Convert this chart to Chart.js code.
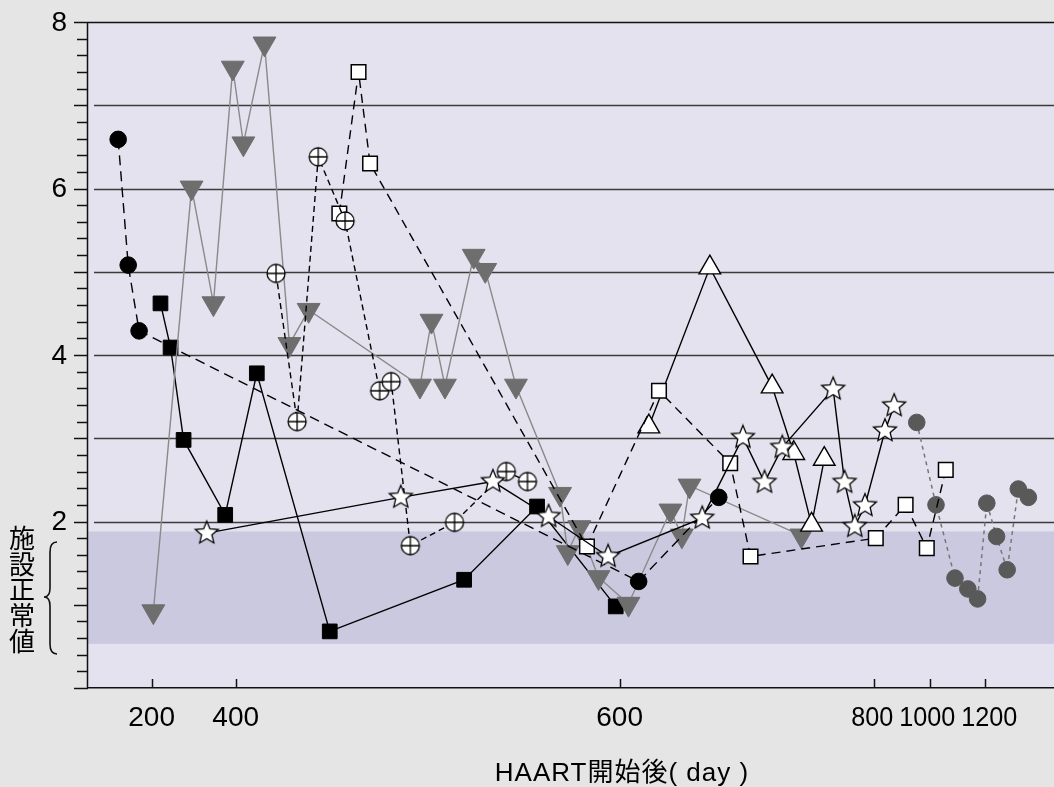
<!DOCTYPE html>
<html lang="ja">
<head>
<meta charset="utf-8">
<title>HAART開始後</title>
<script src="https://cdn.jsdelivr.net/npm/chart.js@4.4.1/dist/chart.umd.min.js"></script>
<style>
  html, body { margin: 0; padding: 0; background: #e5e5e5; overflow: hidden; }
  canvas { display: block; }
</style>
</head>
<body>
<canvas id="haartChart" width="1054" height="787"></canvas>
<script>
// values (x = days after HAART start)
const xTickDays = [200, 400, 600, 800, 1000, 1200];
const yTickLabels = [2, 4, 6, 8];
const normalRange = [0.53, 1.88];

const blackCircleDays = [120, 144, 170, 615, 678];
const blackCircleValues = [6.59, 5.08, 4.29, 1.28, 2.29];

const blackSquareDays = [221, 245, 276, 375, 411, 449, 519, 557, 598];
const blackSquareValues = [4.62, 4.09, 2.98, 2.08, 3.78, 0.68, 1.30, 2.18, 0.98];

const starDays = [331, 486, 534, 563, 594, 665, 697, 714, 728, 768, 777, 785, 793, 840, 873];
const starValues = [1.86, 2.29, 2.48, 2.06, 1.58, 2.04, 3.01, 2.47, 2.89, 3.59, 2.47, 1.94, 2.19, 3.09, 3.39];

const crossCircleDays = [421, 432, 443, 457, 475, 481, 491, 514, 541, 552];
const crossCircleValues = [4.98, 3.20, 6.38, 5.61, 3.57, 3.68, 1.71, 1.99, 2.60, 2.48];

const whiteSquareDays = [454, 464, 470, 583, 631, 687, 703, 807, 914, 990, 1058];
const whiteSquareValues = [5.70, 7.40, 6.30, 1.70, 3.57, 2.70, 1.58, 1.80, 2.20, 1.68, 2.62];

const whiteTriangleDays = [623, 671, 720, 737, 751, 761];
const whiteTriangleValues = [3.14, 5.05, 3.62, 2.82, 1.96, 2.75];

const grayTriangleDays = [204, 295, 347, 393, 404, 415, 428, 438, 496, 502, 509, 524, 530, 546,
                          569, 573, 579, 589, 607, 640, 649, 655, 743];
const grayTriangleValues = [0.92, 6.01, 4.62, 7.45, 6.54, 7.74, 4.13, 4.54, 3.63, 4.41, 3.63, 5.19, 5.02, 3.63,
                            2.33, 1.63, 1.93, 1.33, 1.01, 2.13, 1.83, 2.43, 1.83];

const grayCircleDays = [954, 1023, 1091, 1137, 1172, 1205, 1240, 1278, 1318, 1354];
const grayCircleValues = [3.19, 2.20, 1.32, 1.19, 1.07, 2.22, 1.82, 1.42, 2.39, 2.29];

// the day axis is not linear: each day on it sits at a fraction of the width
const xBreakDays = [48, 200, 400, 600, 800, 1000, 1200, 1446];
const xBreakFracs = [0, 0.0659, 0.1529, 0.5503, 0.8135, 0.8712, 0.9290, 1];

function interp(v, from, to) {
    let i = 0;
    while (i < from.length - 2 && v > from[i + 1]) i++;
    const t = (v - from[i]) / (from[i + 1] - from[i]);
    return to[i] + t * (to[i + 1] - to[i]);
}

class BrokenLinearScale extends Chart.LinearScale {
    getPixelForValue(value) {
        if (value === null || value === undefined) return NaN;
        return this.left + interp(value, xBreakDays, xBreakFracs) * this.width;
    }
    getValueForPixel(pixel) {
        return interp((pixel - this.left) / this.width, xBreakFracs, xBreakDays);
    }
}
BrokenLinearScale.id = 'brokenLinear';
BrokenLinearScale.defaults = Chart.LinearScale.defaults;
Chart.register(BrokenLinearScale);

const pairs = (xs, ys) => xs.map((x, i) => ({ x: x, y: ys[i] }));

// marker images for the star and the crossed circle
function makeStar(outer, inner) {
    const s = Math.ceil(outer * 2 + 4);
    const c = document.createElement('canvas');
    c.width = c.height = s;
    const g = c.getContext('2d');
    g.beginPath();
    for (let i = 0; i < 10; i++) {
        const r = i % 2 ? inner : outer;
        const a = -Math.PI / 2 + i * Math.PI / 5;
        g.lineTo(s / 2 + r * Math.cos(a), s / 2 + r * Math.sin(a));
    }
    g.closePath();
    g.fillStyle = '#fff';
    g.fill();
    g.lineWidth = 1.3;
    g.strokeStyle = '#000';
    g.stroke();
    return c;
}

function makeCrossCircle(r) {
    const s = Math.ceil(r * 2 + 4);
    const c = document.createElement('canvas');
    c.width = c.height = s;
    const g = c.getContext('2d');
    const m = s / 2;
    g.beginPath();
    g.arc(m, m, r, 0, Math.PI * 2);
    g.fillStyle = '#fff';
    g.fill();
    g.lineWidth = 1.3;
    g.strokeStyle = '#000';
    g.stroke();
    g.beginPath();
    g.moveTo(m - r, m); g.lineTo(m + r, m);
    g.moveTo(m, m - r); g.lineTo(m, m + r);
    g.stroke();
    return c;
}

const starImg = makeStar(12, 5.4);
const crossImg = makeCrossCircle(9);

const decor = {
    id: 'decor',
    beforeDraw(chart) {
        const { ctx, chartArea: a } = chart;
        const y = chart.scales.y;
        ctx.save();
        ctx.fillStyle = '#e5e5e5';
        ctx.fillRect(0, 0, chart.width, chart.height);
        ctx.fillStyle = '#e3e2ee';
        ctx.fillRect(a.left, a.top, a.right - a.left, a.bottom - a.top);
        const top = y.getPixelForValue(normalRange[1]);
        const bot = y.getPixelForValue(normalRange[0]);
        ctx.fillStyle = '#cbc9df';
        ctx.fillRect(a.left, top, a.right - a.left, bot - top);
        ctx.restore();
    },
    beforeDatasetsDraw(chart) {
        const { ctx, chartArea: a } = chart;
        const y = chart.scales.y;
        ctx.save();
        ctx.strokeStyle = '#3c3c3c';
        ctx.lineWidth = 1.3;
        for (let v = 2; v <= 7; v++) {
            const py = Math.round(y.getPixelForValue(v)) + 0.5;
            ctx.beginPath();
            ctx.moveTo(a.left + 6, py);
            ctx.lineTo(a.right, py);
            ctx.stroke();
        }
        ctx.restore();
    },
    afterDraw(chart) {
        const { ctx, chartArea: a } = chart;
        const x = chart.scales.x, y = chart.scales.y;
        ctx.save();
        ctx.strokeStyle = '#111';
        ctx.lineWidth = 1.5;

        // frame: top and left lines
        ctx.beginPath();
        ctx.moveTo(a.left, a.top + 0.5);
        ctx.lineTo(a.right, a.top + 0.5);
        ctx.moveTo(a.left - 0.5, a.top);
        ctx.lineTo(a.left - 0.5, a.bottom);
        ctx.stroke();

        // y ticks every 0.2, longer on whole numbers
        for (let k = 0; k <= 40; k++) {
            const py = Math.round(y.getPixelForValue(k / 5)) + 0.5;
            const len = k % 5 === 0 ? 14 : 11;
            ctx.beginPath();
            ctx.moveTo(a.left - len, py);
            ctx.lineTo(a.left, py);
            ctx.stroke();
        }

        // x ticks point inwards
        xTickDays.forEach(v => {
            const px = Math.round(x.getPixelForValue(v)) + 0.5;
            ctx.beginPath();
            ctx.moveTo(px, a.bottom);
            ctx.lineTo(px, a.bottom - 9);
            ctx.stroke();
        });

        ctx.fillStyle = '#000';
        ctx.font = "28px 'Liberation Sans', Arial, sans-serif";
        ctx.textBaseline = 'middle';

        // y tick labels
        ctx.textAlign = 'right';
        yTickLabels.forEach(v => {
            ctx.fillText(String(v), a.left - 21, y.getPixelForValue(v) + 1);
        });

        // x tick labels: squeeze crowded ones and nudge them apart
        ctx.textAlign = 'center';
        const pxs = xTickDays.map(v => x.getPixelForValue(v));
        const sq = pxs.map((p, i) => {
            const gap = Math.min(i > 0 ? p - pxs[i - 1] : 999, i < pxs.length - 1 ? pxs[i + 1] - p : 999);
            return gap < 80 ? 0.9 : 1;
        });
        const ws = xTickDays.map((v, i) => ctx.measureText(String(v)).width * sq[i]);
        const cs = pxs.slice();
        for (let it = 0; it < 10; it++) {
            for (let i = 0; i < cs.length - 1; i++) {
                const over = (cs[i] + ws[i] / 2 + 6) - (cs[i + 1] - ws[i + 1] / 2);
                if (over > 0) { cs[i] -= over / 2; cs[i + 1] += over / 2; }
            }
        }
        xTickDays.forEach((v, i) => {
            ctx.save();
            ctx.translate(cs[i], a.bottom + 30);
            ctx.scale(sq[i], 1);
            ctx.fillText(String(v), 0, 0);
            ctx.restore();
        });

        // axis title
        ctx.font = "26px 'Liberation Sans', 'Noto Sans CJK JP', sans-serif";
        ctx.letterSpacing = '1px';
        ctx.fillText('HAART開始後( day )', 622, 774);
        ctx.letterSpacing = '0px';

        // normal range note with brace
        ctx.font = "26px 'Noto Sans CJK JP', sans-serif";
        const note = '施設正常値';
        for (let i = 0; i < note.length; i++) {
            ctx.fillText(note[i], 22, 538 + i * 25.7);
        }
        ctx.lineWidth = 1.6;
        ctx.beginPath();
        ctx.moveTo(57, 542);
        ctx.quadraticCurveTo(50, 542, 50, 552);
        ctx.lineTo(50, 588);
        ctx.quadraticCurveTo(50, 597, 44, 597);
        ctx.quadraticCurveTo(50, 597, 50, 606);
        ctx.lineTo(50, 644);
        ctx.quadraticCurveTo(50, 654, 57, 654);
        ctx.stroke();
        ctx.restore();
    }
};

const ctx = document.getElementById('haartChart');

new Chart(ctx, {
    type: 'line',
    data: {
        datasets: [
            {
                label: 'stars',
                data: pairs(starDays, starValues),
                borderColor: '#000',
                borderWidth: 1.4,
                pointStyle: starImg,
                pointRadius: 11
            },
            {
                label: 'crossed circles',
                data: pairs(crossCircleDays, crossCircleValues),
                borderColor: '#000',
                borderWidth: 1.4,
                borderDash: [6, 4],
                pointStyle: crossImg,
                pointRadius: 9
            },
            {
                label: 'white squares',
                data: pairs(whiteSquareDays, whiteSquareValues),
                borderColor: '#000',
                borderWidth: 1.4,
                borderDash: [9, 6],
                pointStyle: 'rect',
                pointRadius: 10.3,
                pointBackgroundColor: '#fff',
                pointBorderColor: '#000',
                pointBorderWidth: 1.5
            },
            {
                label: 'white triangles',
                data: pairs(whiteTriangleDays, whiteTriangleValues),
                borderColor: '#000',
                borderWidth: 1.4,
                pointStyle: 'triangle',
                pointRadius: 12.5,
                pointBackgroundColor: '#fff',
                pointBorderColor: '#000',
                pointBorderWidth: 1.4
            },
            {
                label: 'black circles',
                data: pairs(blackCircleDays, blackCircleValues),
                borderColor: '#000',
                borderWidth: 1.4,
                borderDash: [10, 6],
                pointStyle: 'circle',
                pointRadius: 8.3,
                pointBackgroundColor: '#000',
                pointBorderColor: '#000',
                pointBorderWidth: 1
            },
            {
                label: 'gray triangles',
                data: pairs(grayTriangleDays, grayTriangleValues),
                borderColor: '#8a8a8a',
                borderWidth: 1.4,
                pointStyle: 'triangle',
                pointRotation: 180,
                pointRadius: 13.2,
                pointBackgroundColor: '#6e6e6e',
                pointBorderColor: '#6e6e6e',
                pointBorderWidth: 1
            },
            {
                label: 'black squares',
                data: pairs(blackSquareDays, blackSquareValues),
                borderColor: '#000',
                borderWidth: 1.4,
                pointStyle: 'rect',
                pointRadius: 10.4,
                pointBackgroundColor: '#000',
                pointBorderColor: '#000',
                pointBorderWidth: 1
            },
            {
                label: 'gray circles',
                data: pairs(grayCircleDays, grayCircleValues),
                borderColor: '#777',
                borderWidth: 1.5,
                borderDash: [4, 4],
                pointStyle: 'circle',
                pointRadius: 8.3,
                pointBackgroundColor: '#595959',
                pointBorderColor: '#595959',
                pointBorderWidth: 1
            }
        ]
    },
    options: {
        responsive: false,
        devicePixelRatio: 1,
        animation: false,
        events: [],
        layout: { autoPadding: false, padding: { top: 22, right: 0, left: 0, bottom: 0 } },
        elements: { line: { tension: 0, fill: false } },
        plugins: {
            legend: { display: false },
            tooltip: { enabled: false }
        },
        scales: {
            x: {
                type: 'brokenLinear',
                min: xBreakDays[0],
                max: xBreakDays[xBreakDays.length - 1],
                afterBuildTicks: scale => { scale.ticks = xTickDays.map(v => ({ value: v })); },
                afterFit: scale => { scale.height = 99; },
                grid: { display: false },
                border: { display: true, color: '#111', width: 1.5 },
                ticks: { display: false }
            },
            y: {
                min: 0,
                max: 8,
                afterBuildTicks: scale => { scale.ticks = yTickLabels.map(v => ({ value: v })); },
                afterFit: scale => { scale.width = 88; },
                grid: { display: false },
                border: { display: false },
                ticks: { display: false }
            }
        }
    },
    plugins: [decor]
});
</script>
</body>
</html>
